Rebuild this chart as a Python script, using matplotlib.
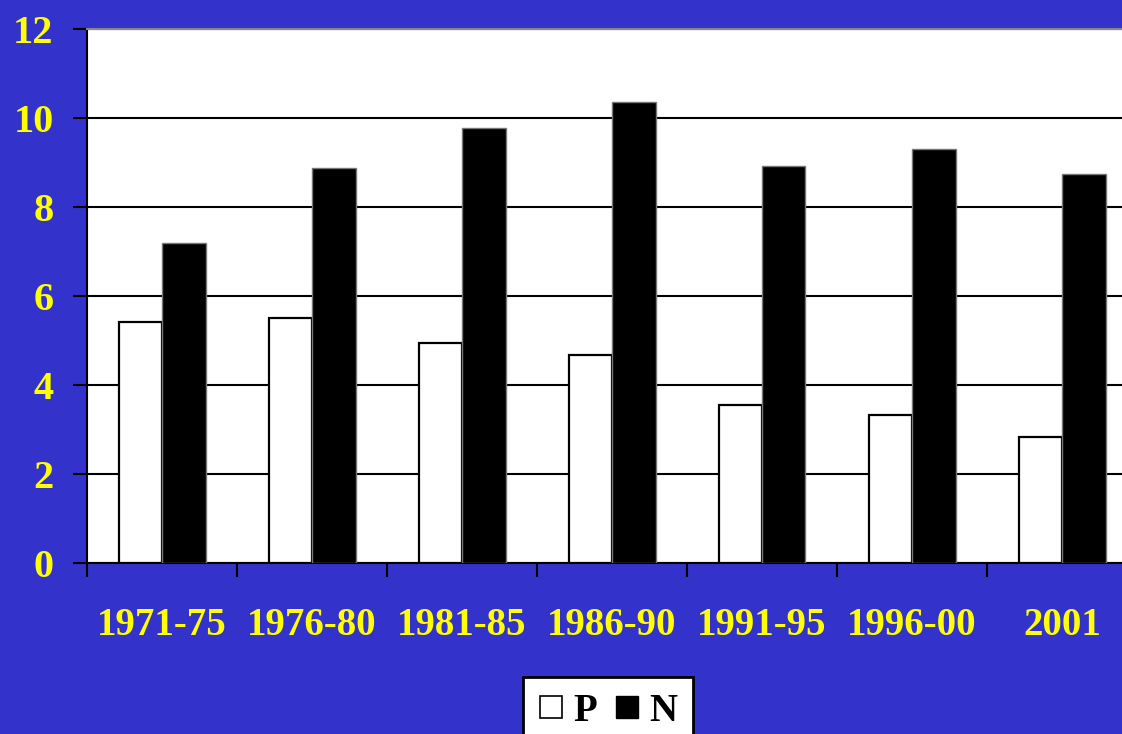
import numpy as np
import matplotlib.pyplot as plt
from matplotlib.lines import Line2D

# data
periods = ["1971-75", "1976-80", "1981-85", "1986-90", "1991-95", "1996-00", "2001"]
p_vals = [5.42, 5.51, 4.94, 4.67, 3.55, 3.33, 2.83]
n_vals = [7.19, 8.88, 9.78, 10.36, 8.92, 9.30, 8.74]
y_ticks = [0, 2, 4, 6, 8, 10, 12]

BG = "#3333CC"
YELLOW = "#FFFF00"
FONT = ["Liberation Serif", "DejaVu Serif"]

plt.rcParams['font.family'] = FONT
plt.rcParams['font.weight'] = 'bold'

W, H = 1122, 734
fig = plt.figure(figsize=(W / 100, H / 100), dpi=100, facecolor=BG)

# plot area: left 87px, top 29px, bottom 563px, right runs past the edge (1137px)
left, right, top, bottom = 87, 1137, 29, 563
ax = fig.add_axes([left / W, 1 - bottom / H, (right - left) / W, (bottom - top) / H])
ax.set_facecolor("white")

x = np.arange(len(periods))
bw = 0.29
ax.bar(x - bw / 2, p_vals, width=bw, color="white", edgecolor="black", linewidth=1.6, zorder=3)
ax.bar(x + bw / 2, n_vals, width=bw, color="black", edgecolor="#777777", linewidth=1.0, zorder=3)

ax.set_xlim(-0.5, len(periods) - 0.5)
ax.set_ylim(0, 12)
ax.set_yticks(y_ticks)
ax.yaxis.grid(True, color="black", linewidth=1.5, zorder=1)
ax.set_axisbelow(True)

ax.set_xticks(np.arange(len(periods) + 1) - 0.5)
ax.set_xticklabels([])
ax.set_xticks(x, minor=True)
ax.set_xticklabels(periods, minor=True)
ax.tick_params(axis='x', which='major', direction='out', length=10, width=1.5, color="black")
ax.tick_params(axis='x', which='minor', length=0, pad=32, labelsize=28, labelcolor=YELLOW)
ax.tick_params(axis='y', direction='out', length=10, width=1.5, color="black",
               labelsize=29, labelcolor=YELLOW, pad=14)
for lab in ax.get_xticklabels(minor=True) + ax.get_yticklabels():
    lab.set_fontweight('bold')

ax.spines['left'].set_linewidth(1.5)
ax.spines['bottom'].set_linewidth(1.5)
ax.spines['top'].set_color("#888888")
ax.spines['top'].set_linewidth(1.5)
ax.spines['right'].set_visible(False)

handles = [
    Line2D([], [], marker='s', linestyle='none', markersize=16,
           markerfacecolor='white', markeredgecolor='black', markeredgewidth=1.2),
    Line2D([], [], marker='s', linestyle='none', markersize=16,
           markerfacecolor='black', markeredgecolor='black'),
]
leg = fig.legend(handles, ["P", "N"], loc='upper center', bbox_to_anchor=(608 / W, 1 - 677 / H),
                 ncol=2, frameon=True, fancybox=False, edgecolor='black', facecolor='white',
                 framealpha=1, prop={'family': FONT, 'weight': 'bold', 'size': 28},
                 handlelength=0.65, handletextpad=0.25, columnspacing=0.45,
                 borderpad=0.4, borderaxespad=0)
leg.get_frame().set_linewidth(2)

fig.savefig("out.png", dpi=100, facecolor=BG)
